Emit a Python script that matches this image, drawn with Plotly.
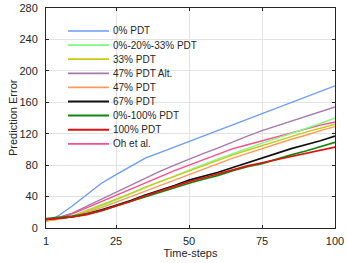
import plotly.graph_objects as go

timesteps = [1, 5, 10, 15, 20, 25, 30, 35, 40, 45, 50, 55, 60, 65, 70, 75, 80, 85, 90, 95, 100]

pdt_0 = [8, 15, 28, 43, 57, 68, 79, 89, 96, 103, 111, 118, 125, 132, 139, 146, 153, 160, 167, 174, 181]
pdt_0_20_33 = [9, 11, 15, 21, 28, 36, 44, 52, 59, 66, 74, 81, 88, 95, 102, 108, 114, 120, 126, 133, 140]
pdt_33 = [9, 11, 15, 22, 29, 36, 44, 52, 59, 66, 73, 80, 87, 93, 99, 105, 111, 117, 122, 127, 132]
pdt_47_alt = [10, 13, 19, 28, 37, 46, 55, 64, 72, 80, 88, 95, 102, 110, 117, 124, 130, 136, 142, 148, 154]
pdt_47 = [9, 11, 15, 20, 26, 33, 41, 48, 55, 62, 69, 76, 83, 89, 95, 101, 107, 113, 118, 124, 129]
pdt_67 = [11, 12, 14, 18, 23, 29, 35, 42, 48, 54, 61, 66, 71, 77, 83, 88, 95, 101, 106, 111, 117]
pdt_0_100 = [12, 13, 15, 18, 22, 28, 34, 40, 46, 51, 57, 62, 67, 73, 78, 82, 88, 93, 98, 104, 109]
pdt_100 = [11, 12, 14, 17, 22, 28, 34, 41, 47, 53, 59, 64, 69, 74, 79, 83, 87, 91, 95, 99, 103]
oh_et_al = [10, 12, 18, 26, 34, 42, 50, 57, 65, 73, 80, 87, 94, 101, 106, 111, 116, 121, 126, 131, 135]

series_names = ["0% PDT", "0%-20%-33% PDT", "33% PDT", "47% PDT Alt.", "47% PDT",
                "67% PDT", "0%-100% PDT", "100% PDT", "Oh et al."]
series_values = [pdt_0, pdt_0_20_33, pdt_33, pdt_47_alt, pdt_47, pdt_67, pdt_0_100, pdt_100, oh_et_al]
colors = ["#6b9cf5", "#7dfc7d", "#c9c918", "#a77aae", "#ff9a5c", "#111111", "#0f8a0f", "#e01010", "#ff4d8c"]
widths = [1.4, 1.4, 1.4, 1.4, 1.4, 1.7, 1.7, 1.7, 1.4]

x_ticks = [1, 25, 50, 75, 100]
y_ticks = [0, 40, 80, 120, 160, 200, 240, 280]

FONT = "Liberation Sans, Arial, sans-serif"
W, H = 347, 263
L, R, T, B = 46, 12, 8, 35
pw, ph = W - L - R, H - T - B

def px2paper(px, py):
    return (px - L) / pw, 1 - (py - T) / ph

fig = go.Figure()
order = [0, 3, 8, 1, 2, 4, 5, 6, 7]
for i in order:
    fig.add_trace(go.Scatter(x=timesteps, y=series_values[i], mode="lines", name=series_names[i],
                             line=dict(color=colors[i], width=widths[i]), showlegend=False))

shapes = []
annotations = []
x0, y0 = px2paper(47, 17)
x1, y1 = px2paper(138, 151)
shapes.append(dict(type="rect", xref="paper", yref="paper", x0=x0, x1=x1, y0=y1, y1=y0,
                   fillcolor="white", line=dict(width=0), layer="between"))
for i, name in enumerate(series_names):
    py = 31 + 14.1 * i
    lx0, ly = px2paper(68, py)
    lx1, _ = px2paper(109, py)
    shapes.append(dict(type="line", xref="paper", yref="paper", x0=lx0, x1=lx1, y0=ly, y1=ly,
                       line=dict(color=colors[i], width=widths[i] + 0.3)))
    tx, _ = px2paper(111, py)
    annotations.append(dict(xref="paper", yref="paper", x=tx, y=ly, text=name, showarrow=False,
                            xanchor="left", yanchor="middle", xshift=0,
                            font=dict(family=FONT, size=10, color="#262626")))

# y-axis title as rotated text
yt_x, yt_y = px2paper(13, 118)
annotations.append(dict(xref="paper", yref="paper", x=yt_x, y=yt_y, text="Prediction Error",
                        showarrow=False, textangle=-90, xanchor="center", yanchor="middle",
                        font=dict(family=FONT, size=11, color="#262626")))

axis_common = dict(showline=True, linecolor="#262626", linewidth=1, mirror="allticks",
                   ticks="inside", ticklen=3, tickcolor="#262626", showgrid=True,
                   gridcolor="#e3e3e3", gridwidth=1, zeroline=False, automargin=False,
                   ticklabeloverflow="allow",
                   tickfont=dict(family=FONT, size=11, color="#262626"))

fig.update_layout(
    width=W, height=H,
    margin=dict(l=L, r=R, t=T, b=B),
    paper_bgcolor="white", plot_bgcolor="white",
    shapes=shapes, annotations=annotations,
    xaxis=dict(range=[1, 100], tickvals=x_ticks, ticktext=[str(v) for v in x_ticks],
               ticklabelstandoff=3,
               title=dict(text="Time-steps", standoff=2,
                          font=dict(family=FONT, size=11, color="#262626")),
               **axis_common),
    yaxis=dict(range=[0, 280], tickvals=y_ticks, ticklabelstandoff=5,
               **axis_common),
    showlegend=False,
)

fig.write_html("out.html", config={"displayModeBar": False},
               post_script="document.body.style.margin='0';")
